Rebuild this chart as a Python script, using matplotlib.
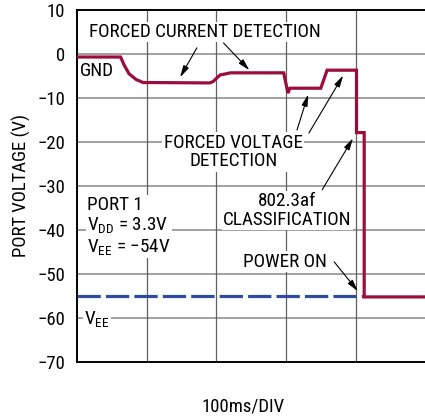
import numpy as np
import matplotlib
matplotlib.use('Agg')
import matplotlib.pyplot as plt

plt.rcParams['font.family'] = ['Roboto Condensed', 'DejaVu Sans']
plt.rcParams['mathtext.fontset'] = 'custom'
plt.rcParams['mathtext.rm'] = 'Roboto Condensed'
plt.rcParams['mathtext.it'] = 'Roboto Condensed'

# port voltage trace (x in divisions of 100ms)
t_port = [0, 0.63, 0.68, 0.75, 0.85, 0.95, 1.9, 1.95, 2.05, 2.2, 2.96, 3.02, 3.05, 3.49, 3.58, 4.0, 4.0, 4.11, 4.11, 5.0]
v_port = [-0.7, -0.7, -2.5, -4.5, -5.8, -6.5, -6.6, -6.3, -4.8, -4.3, -4.3, -8.9, -7.8, -7.8, -3.7, -3.7, -17.9, -17.9, -55.3, -55.3]

# VEE reference
t_vee = [0, 4.1]
v_vee = [-55.1, -55.1]

y_ticks = [10, 0, -10, -20, -30, -40, -50, -60, -70]

red = '#9b0d3a'
blue = '#2f4ca0'

fig = plt.figure(figsize=(4.25, 4.19), dpi=100)
ax = fig.add_axes([76.5 / 425, 1 - 361.5 / 419, 350 / 425, 351.5 / 419])

ax.set_xlim(0, 5)
ax.set_ylim(-70, 10)
ax.set_xticks([1, 2, 3, 4])
ax.set_xticklabels([])
ax.set_yticks(y_ticks)
ax.tick_params(length=0, labelsize=13.5, pad=8)
for y in y_ticks[1:-1]:
    ax.axhline(y, color='#a0a0a0', lw=1.4, zorder=0)
for x in [1, 2, 3, 4]:
    ax.axvline(x, color='#606060', lw=0.9, zorder=0)
for s in ['left', 'top', 'bottom']:
    ax.spines[s].set_linewidth(1.4)
ax.spines['right'].set_visible(False)

ax.plot(t_vee, v_vee, color=blue, lw=2.3, dashes=(7.3, 1.6), zorder=3)
ax.plot(t_port, v_port, color=red, lw=2.3, zorder=4, solid_joinstyle='miter')

ax.set_ylabel('PORT VOLTAGE (V)', fontsize=13.5, labelpad=5)
fig.text(243 / 425, 1 - 406 / 419, '100ms/DIV', fontsize=13.5, ha='center', va='center')

box = dict(facecolor='white', edgecolor='none', pad=1)
fs = 13.8
ax.text(1.84, 5.0, 'FORCED CURRENT DETECTION', fontsize=fs, ha='center', va='center', bbox=box, zorder=5)
ax.text(0.05, -3.9, 'GND', fontsize=fs, ha='left', va='center', zorder=5)
ax.text(2.24, -22.3, 'FORCED VOLTAGE\nDETECTION', fontsize=fs, ha='center', va='center',
        linespacing=1.05, bbox=box, zorder=5)
ax.text(3.01, -35.7, '802.3af\nCLASSIFICATION', fontsize=fs, ha='center', va='center',
        linespacing=1.05, bbox=box, zorder=5)
ax.text(2.98, -47.3, 'POWER ON', fontsize=fs, ha='center', va='center', bbox=box, zorder=5)
ax.text(0.15, -39.2, 'PORT 1\nV$_{\\mathrm{DD}}$ = 3.3V\nV$_{\\mathrm{EE}}$ = \u221254V', fontsize=fs,
        ha='left', va='center', linespacing=1.1, bbox=box, zorder=5)
ax.text(0.11, -60.3, 'V$_{\\mathrm{EE}}$', fontsize=fs, ha='left', va='center', bbox=box, zorder=5)

arrows = [
    ((1.72, 1.4), (1.48, -5.3)),
    ((2.10, 2.5), (2.47, -3.7)),
    ((3.15, -17.3), (3.31, -9.2)),
    ((3.32, -18.0), (3.81, -4.9)),
    ((3.51, -30.9), (3.95, -19.2)),
    ((3.68, -47.3), (4.02, -54.0)),
]
for tail, head in arrows:
    ax.annotate('', xy=head, xytext=tail,
                arrowprops=dict(arrowstyle='-|>,head_length=0.7,head_width=0.18', color='black', lw=0.8,
                                shrinkA=0, shrinkB=0), zorder=6)

fig.savefig('out.png', dpi=100)
